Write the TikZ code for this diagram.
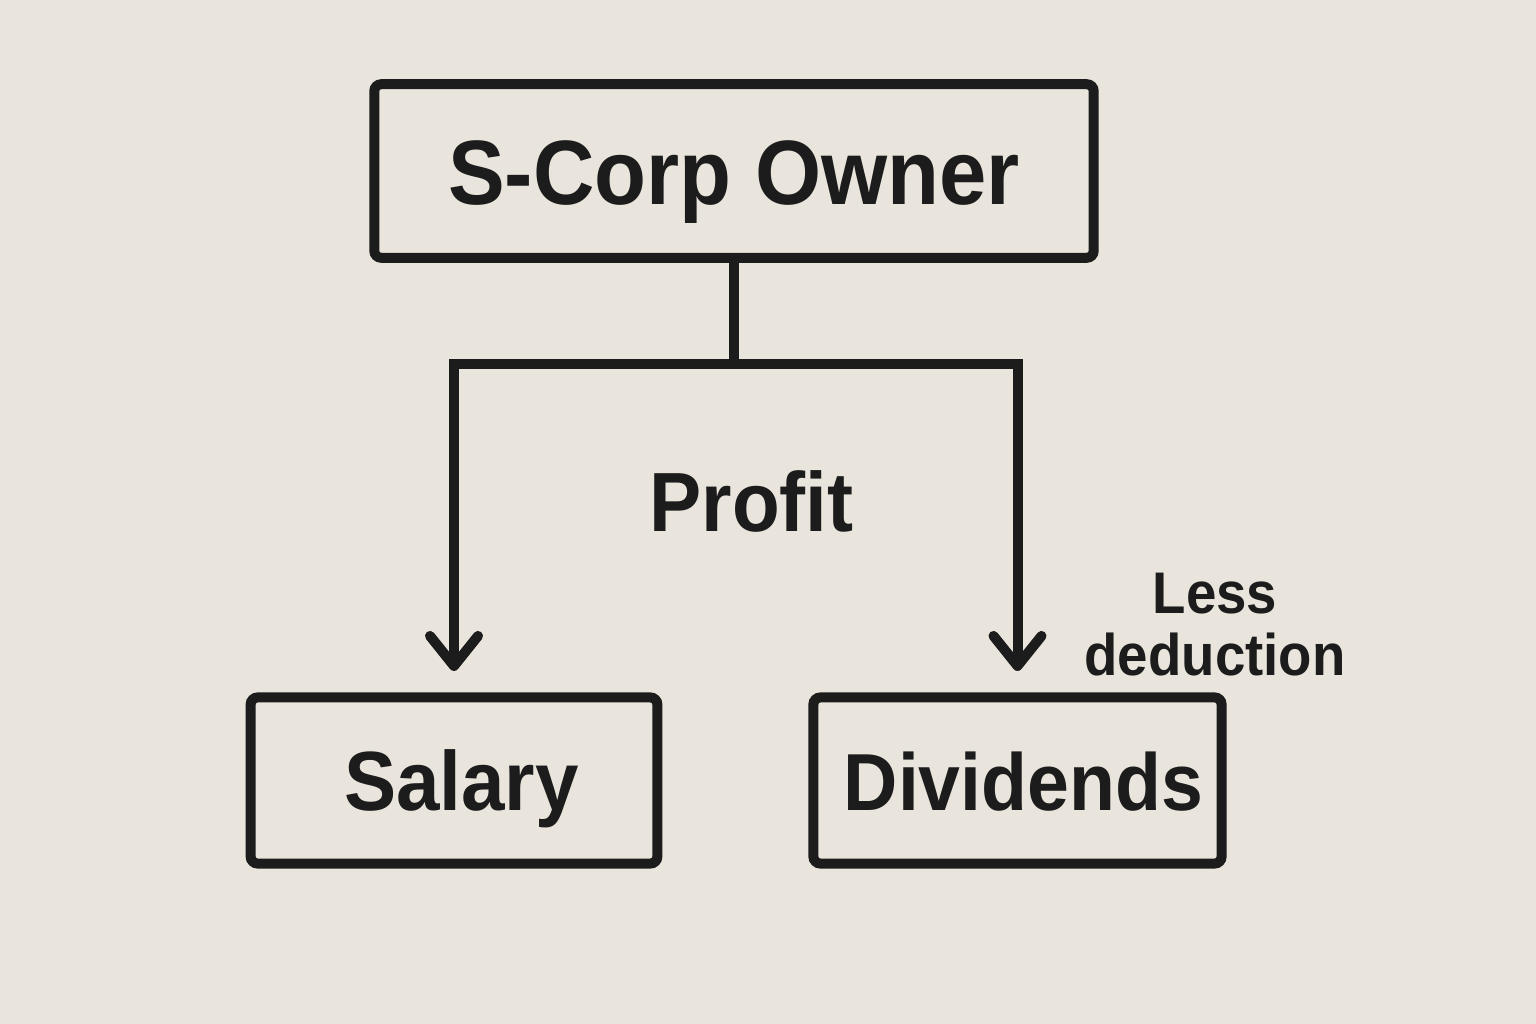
\documentclass[tikz,border=0pt]{standalone}
\usepackage{fontspec}
\setmainfont{Liberation Sans}[FakeStretch=0.93]
\usepackage{tikz}
\usetikzlibrary{arrows.meta}
\definecolor{paper}{RGB}{234,229,220}
\definecolor{ink}{RGB}{28,28,28}

\begin{document}
\begin{tikzpicture}[x=0.01cm, y=-0.01cm, line width=0.1cm,
  box/.style={draw=ink, rounded corners=0.07cm, inner sep=0pt, text=ink, text height=0.6cm, text depth=0pt, font=\fontsize{23.9pt}{28pt}\selectfont\bfseries},
  tag/.style={inner sep=0pt, text=ink, align=center, font=\bfseries},
  flow/.style={draw=ink, -{Straight Barb[round, length=0.3cm, width=0.48cm]}}]
\fill[paper] (0,0) rectangle (1536,1024);
\node[box, minimum width=7.19cm, minimum height=1.735cm, text height=0.66cm, font=\fontsize{26pt}{30pt}\selectfont\bfseries] (owner) at (734,171) {S-Corp Owner};
\node[box, minimum width=4.065cm, minimum height=1.66cm] (salary) at (454,780.5) {\hspace*{0.15cm}Salary};
\node[box, minimum width=4.08cm, minimum height=1.66cm, font=\fontsize{23pt}{28pt}\selectfont\bfseries] (dividends) at (1017.5,780.5) {\hspace*{0.12cm}Dividends};
\node[tag, anchor=base, font=\fontsize{23.9pt}{28pt}\selectfont\bfseries] (profit) at (751.5,531) {Profit};
\node[tag, font=\fontsize{16.7pt}{17.6pt}\selectfont\bfseries] (less) at (1215,625) {Less\\deduction};
\path (owner.south) ++(0,101.5) coordinate (split);
\draw[draw=ink] (owner.south) -- (split);
\draw[flow] (split) -| ([yshift=0.215cm]salary.north);
\draw[flow] (split) -| ([yshift=0.215cm]dividends.north);
\end{tikzpicture}
\end{document}
